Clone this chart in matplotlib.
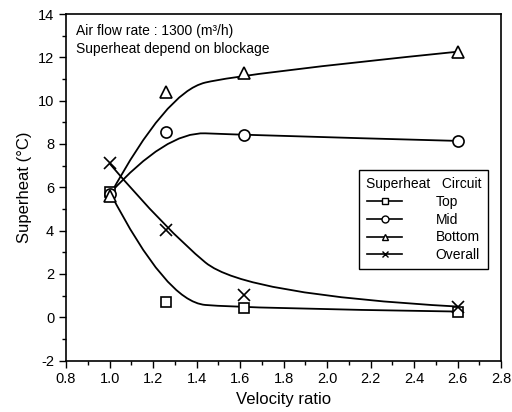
import matplotlib
matplotlib.use("Agg")
import matplotlib.pyplot as plt
from matplotlib.path import Path
from matplotlib.patches import PathPatch
from matplotlib.ticker import MultipleLocator

plt.rcParams['font.family'] = ['Liberation Sans', 'DejaVu Sans']
plt.rcParams['axes.unicode_minus'] = False

# velocity ratio and superheat per circuit
vel = [1.0, 1.26, 1.62, 2.6]
top = [5.8, 0.72, 0.41, 0.26]
mid = [5.7, 8.57, 8.41, 8.14]
bottom = [5.6, 10.41, 11.26, 12.26]
overall = [7.1, 4.03, 1.03, 0.49]

fig = plt.figure(figsize=(5.12, 4.12), dpi=100)
ax = fig.add_axes([0.129, 0.125, 0.850, 0.841])

series = [(top, 's', 7.5, 'Top'), (mid, 'o', 8, 'Mid'),
          (bottom, '^', 8.5, 'Bottom'), (overall, 'x', 9, 'Overall')]

for y, m, ms, lab in series:
    # quadratic B-spline with the data points as control points
    pts = list(zip(vel, y))
    knot = ((vel[1] + vel[2]) / 2, (y[1] + y[2]) / 2)
    verts = [pts[0], pts[1], knot, pts[2], pts[3]]
    codes = [Path.MOVETO, Path.CURVE3, Path.CURVE3, Path.CURVE3, Path.CURVE3]
    ax.add_patch(PathPatch(Path(verts, codes), fill=False, lw=1.3, color='black'))
    ax.plot(vel, y, linestyle='none', marker=m, markersize=ms,
            mfc='white', mec='black', mew=1.2, color='black')
    # legend proxy
    ax.plot([], [], color='black', lw=1.2, marker=m, markersize=5,
            mfc='white', mec='black', mew=1.0, label=lab)

ax.set_xlim(0.8, 2.8)
ax.set_ylim(-2, 14)
ax.xaxis.set_major_locator(MultipleLocator(0.2))
ax.xaxis.set_minor_locator(MultipleLocator(0.1))
ax.yaxis.set_major_locator(MultipleLocator(2))
ax.yaxis.set_minor_locator(MultipleLocator(1))
ax.tick_params(which='major', direction='out', length=5, width=1, labelsize=10.5)
ax.tick_params(which='minor', direction='out', length=3, width=1)
for s in ax.spines.values():
    s.set_linewidth(1.2)

ax.set_xlabel("Velocity ratio", fontsize=12)
ax.set_ylabel("Superheat (°C)", fontsize=12)

ax.text(0.022, 0.972, "Air flow rate : 1300 (m³/h)", transform=ax.transAxes,
        fontsize=10, va='top', ha='left')
ax.text(0.022, 0.918, "Superheat depend on blockage", transform=ax.transAxes,
        fontsize=10, va='top', ha='left')

leg = ax.legend(title="Superheat   Circuit", loc='upper right',
                bbox_to_anchor=(0.970, 0.549), borderaxespad=0,
                fontsize=10, title_fontsize=10, fancybox=False,
                edgecolor='black', framealpha=1, handlelength=2.5,
                labelspacing=0.27, handletextpad=2.4, borderpad=0.5)
leg.get_frame().set_linewidth(1.0)

fig.savefig("out.png", dpi=100)
